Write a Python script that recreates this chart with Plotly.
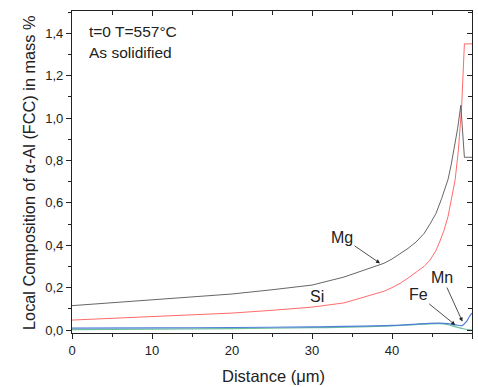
import plotly.graph_objects as go

# ---- data ----
x_mg = [0, 5, 10, 15, 20, 25, 30, 34, 38, 39, 40, 41, 42, 43, 44, 44.75, 45.5, 46.2, 46.6, 47.0, 47.4, 47.8, 48.2, 48.6, 49.05, 50]
mg = [0.115, 0.128, 0.143, 0.156, 0.17, 0.19, 0.212, 0.25, 0.30, 0.315, 0.335, 0.358, 0.385, 0.415, 0.455, 0.50, 0.55, 0.62, 0.665, 0.71, 0.78, 0.86, 0.95, 1.06, 0.815, 0.815]

x_si = [0, 5, 10, 15, 20, 25, 30, 34, 38, 39, 40, 41, 42, 43, 44, 44.75, 45.5, 46, 46.5, 47, 47.4, 47.9, 48.3, 48.7, 49.05, 50]
si = [0.047, 0.055, 0.064, 0.072, 0.08, 0.093, 0.108, 0.128, 0.17, 0.183, 0.20, 0.22, 0.245, 0.272, 0.30, 0.33, 0.375, 0.42, 0.47, 0.535, 0.61, 0.71, 0.85, 1.05, 1.35, 1.35]

x_mn = [0, 10, 20, 30, 40, 44, 46, 47, 48, 48.8, 49.3, 49.7, 50]
mn = [0.009, 0.010, 0.012, 0.015, 0.022, 0.030, 0.033, 0.030, 0.024, 0.022, 0.040, 0.065, 0.08]

x_fe = [0, 10, 20, 30, 40, 44, 46, 47, 48, 49, 50]
fe = [0.002, 0.004, 0.007, 0.011, 0.020, 0.028, 0.030, 0.025, 0.015, 0.005, 0.0]

x_ticks = [0, 10, 20, 30, 40, 50]
y_ticks = [0.0, 0.2, 0.4, 0.6, 0.8, 1.0, 1.2, 1.4]
y_ticktext = ["0,0", "0,2", "0,4", "0,6", "0,8", "1,0", "1,2", "1,4"]

FONT = "Liberation Sans, Arial, sans-serif"
XR = [0, 50]
YR = [-0.014, 1.505]

fig = go.Figure()
fig.add_trace(go.Scatter(x=x_fe, y=fe, mode="lines", line=dict(color="#6cc09a", width=1.2), line_shape="spline", showlegend=False))
fig.add_trace(go.Scatter(x=x_mn, y=mn, mode="lines", line=dict(color="#4f7fd8", width=1.2), line_shape="spline", showlegend=False))
fig.add_trace(go.Scatter(x=x_si, y=si, mode="lines", line=dict(color="#ff5a5a", width=0.9), showlegend=False))
fig.add_trace(go.Scatter(x=x_mg, y=mg, mode="lines", line=dict(color="#555555", width=0.9), showlegend=False))
# invisible trace to show the mirrored (inside-tick) axes
fig.add_trace(go.Scatter(x=[None], y=[None], xaxis="x2", yaxis="y2", showlegend=False, hoverinfo="skip"))

axis_common = dict(showgrid=False, zeroline=False, showline=True, linecolor="#222", linewidth=1.3)

fig.update_layout(
    width=478, height=387,
    margin=dict(l=72, r=6, t=11, b=54),
    paper_bgcolor="white", plot_bgcolor="white",
    font=dict(family=FONT, size=13, color="#222"),
    xaxis=dict(range=XR, tickvals=x_ticks, ticks="outside", ticklen=5, tickwidth=1, tickcolor="#222",
               minor=dict(dtick=5, tick0=0, ticks="outside", ticklen=3, tickcolor="#222"),
               tickfont=dict(size=13, color="#222"), **axis_common),
    yaxis=dict(range=YR, tickvals=y_ticks, ticktext=y_ticktext, ticks="outside", ticklen=5, tickwidth=1, tickcolor="#222",
               minor=dict(dtick=0.1, tick0=0, ticks="outside", ticklen=3, tickcolor="#222"),
               tickfont=dict(size=13, color="#222"), **axis_common),
    xaxis2=dict(range=XR, overlaying="x", side="top", anchor="y", tickvals=x_ticks, ticks="inside", ticklen=5,
                tickcolor="#222", showticklabels=False,
                minor=dict(dtick=5, tick0=0, ticks="inside", ticklen=4, tickcolor="#222"), **axis_common),
    yaxis2=dict(range=YR, overlaying="y", side="right", anchor="x", tickvals=y_ticks, ticks="inside", ticklen=5,
                tickcolor="#222", showticklabels=False,
                minor=dict(dtick=0.1, tick0=0, ticks="inside", ticklen=4, tickcolor="#222"), **axis_common),
)

ann = []
ann.append(dict(text="Local Composition of α-Al (FCC) in mass %", xref="paper", yref="paper",
                x=-0.1075, y=0.497, textangle=-90, showarrow=False, xanchor="center", yanchor="middle",
                font=dict(size=16.3, family=FONT, color="#222")))
ann.append(dict(text="Distance (μm)", xref="paper", yref="paper", x=0.5025, y=-0.1335,
                showarrow=False, xanchor="center", yanchor="middle", font=dict(size=16.5, family=FONT, color="#222")))
ann.append(dict(text="t=0 T=557°C", xref="paper", yref="paper", x=0.0375, y=0.935, showarrow=False,
                xanchor="left", yanchor="middle", font=dict(size=15.5, family=FONT, color="#222")))
ann.append(dict(text="As solidified", xref="paper", yref="paper", x=0.0375, y=0.87, showarrow=False,
                xanchor="left", yanchor="middle", font=dict(size=15.5, family=FONT, color="#222")))
ann.append(dict(text="Si", x=30.6, y=0.156, showarrow=False, font=dict(size=16, family=FONT, color="#222")))
for label, hx, hy, ax, ay in [("Mg", 38.5, 0.315, -38, -26), ("Fe", 47.9, 0.024, -37, -30), ("Mn", 48.8, 0.04, -20, -44)]:
    ann.append(dict(text=label, x=hx, y=hy, ax=ax, ay=ay, showarrow=True, arrowhead=2, arrowsize=1,
                    arrowwidth=0.8, arrowcolor="#222", font=dict(size=16, family=FONT, color="#222")))
fig.update_layout(annotations=ann)

fig.write_html("out.html")
